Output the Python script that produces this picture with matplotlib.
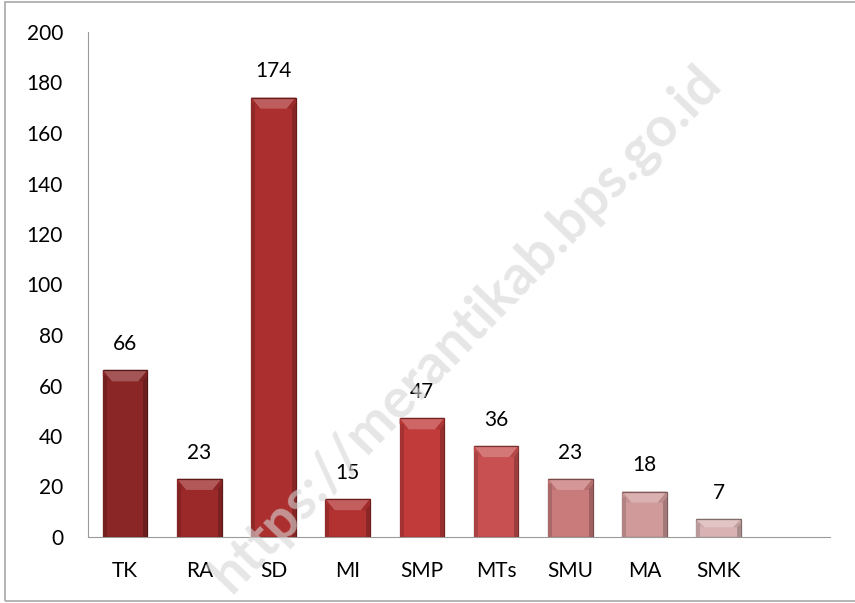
import numpy as np
import matplotlib.pyplot as plt
from matplotlib.patches import Polygon, Rectangle

categories = ['TK', 'RA', 'SD', 'MI', 'SMP', 'MTs', 'SMU', 'MA', 'SMK']
values = [66, 23, 174, 15, 47, 36, 23, 18, 7]
bar_colors = ['#8a2626', '#9c2929', '#ab2f2f', '#b23131', '#c23b3b',
              '#c85050', '#c97a7a', '#d09a9a', '#d9b3b3']
y_ticks = [0, 20, 40, 60, 80, 100, 120, 140, 160, 180, 200]

plt.rcParams['font.family'] = ['Lato', 'DejaVu Sans']

fig = plt.figure(figsize=(8.55, 6.03), dpi=100)
ax = fig.add_axes([88 / 855, 1 - 537 / 603, 742 / 855, 505 / 603])

# border around the chart area (right side falls outside the picture)
fig.patches.append(Rectangle((5 / 855, 2 / 603), 1.1, 599 / 603, transform=fig.transFigure,
                             fill=False, edgecolor='#a8a8a8', linewidth=1.2))

# watermark
fig.text(0.545, 0.455, 'https://merantikab.bps.go.id', fontsize=40, fontweight='bold',
         color='#d6d6d6', alpha=0.6, rotation=46, ha='center', va='center', zorder=0)

x = np.arange(len(categories))
width = 0.6


def lighten(c, f):
    r, g, b = plt.matplotlib.colors.to_rgb(c)
    return (r + (1 - r) * f, g + (1 - g) * f, b + (1 - b) * f)


def darken(c, f):
    r, g, b = plt.matplotlib.colors.to_rgb(c)
    return (r * (1 - f), g * (1 - f), b * (1 - f))


ax.bar(x, values, width=width, color=bar_colors, edgecolor=[darken(c, 0.4) for c in bar_colors],
       linewidth=0.9, zorder=3)

# bevel on each bar: light top chamfer, darker sides
px_x = 1 / 74.2      # one pixel in x data units
px_y = 200 / 505     # one pixel in y data units
for xi, v, c in zip(x, values, bar_colors):
    l, r = xi - width / 2, xi + width / 2
    h = min(11 * px_y, v * 0.45)
    ins = min(9 * px_x, h / px_y * px_x)
    ax.add_patch(Polygon([(l, v), (r, v), (r - ins, v - h), (l + ins, v - h)], closed=True,
                         facecolor=lighten(c, 0.22), edgecolor='none', zorder=4))
    ax.add_patch(Polygon([(l, v), (l + ins, v - h), (l + 4 * px_x, v - h), (l, v - 0.5 * h)],
                         closed=True, facecolor=darken(c, 0.05), edgecolor='none', zorder=4))
    ax.add_patch(Rectangle((l, 0), 4 * px_x, v - 0.5 * h, facecolor=darken(c, 0.15),
                           edgecolor='none', zorder=4))
    ax.add_patch(Rectangle((r - 4 * px_x, 0), 4 * px_x, v - 0.5 * h, facecolor=darken(c, 0.22),
                           edgecolor='none', zorder=4))
    ax.add_patch(Polygon([(r, v), (r - ins, v - h), (r - 4 * px_x, v - h), (r, v - 0.5 * h)],
                         closed=True, facecolor=darken(c, 0.1), edgecolor='none', zorder=4))
    ax.add_patch(Rectangle((l, v), width, 0, fill=False, edgecolor=darken(c, 0.4),
                           linewidth=0.9, zorder=5))
    ax.text(xi, v + 6.5, str(v), ha='center', va='bottom', fontsize=15, color='black', zorder=5)

ax.set_xlim(-0.5, 9.5)
ax.set_ylim(0, 200)
ax.set_yticks(y_ticks)
ax.set_xticks(x)
ax.set_xticklabels(categories)
ax.tick_params(axis='both', length=0, labelsize=15)
ax.tick_params(axis='y', pad=18)
ax.tick_params(axis='x', pad=17)
ax.spines['top'].set_visible(False)
ax.spines['right'].set_visible(False)
ax.spines['left'].set_color('#9a9a9a')
ax.spines['bottom'].set_color('#9a9a9a')
ax.patch.set_alpha(0)

plt.savefig('out.png', dpi=100)
